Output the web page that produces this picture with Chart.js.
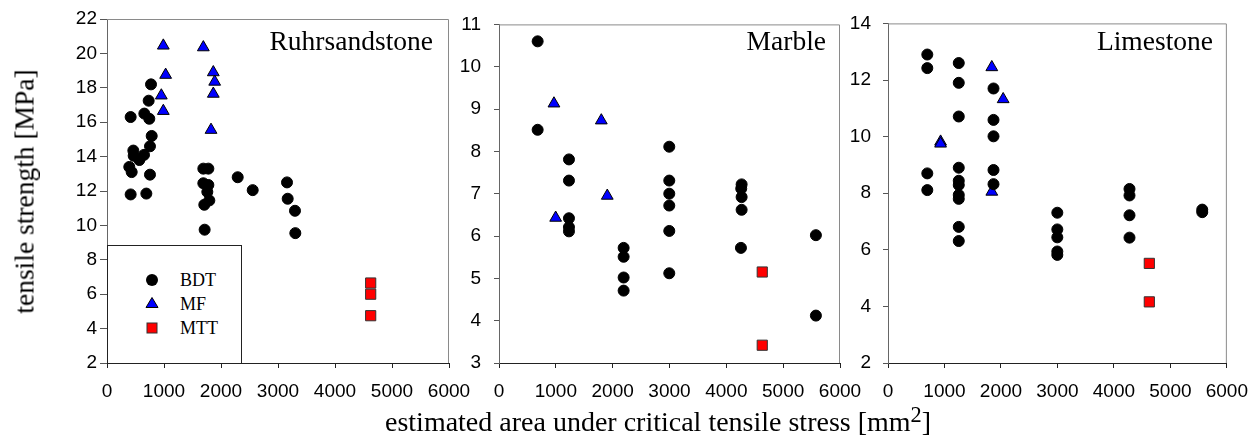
<!DOCTYPE html>
<html><head><meta charset="utf-8">
<script src="https://cdn.jsdelivr.net/npm/chart.js@4.4.1/dist/chart.umd.min.js"></script>
<style>
html,body{margin:0;padding:0;background:#fff;}
#wrap{position:relative;width:1260px;height:438px;overflow:hidden;font-family:"Liberation Serif","Times New Roman",serif;color:#000;}
canvas{position:absolute;left:0;top:0;}
.ptitle{position:absolute;font-size:27.5px;line-height:27px;white-space:nowrap;text-align:right;width:300px;}
#ytitle{position:absolute;left:-176px;top:178px;width:400px;height:27px;line-height:27px;font-size:27.5px;text-align:center;transform:rotate(-90deg);white-space:nowrap;}
#xtitle{position:absolute;left:385px;top:408px;font-size:28px;line-height:28px;white-space:nowrap;}
#xtitle sup{font-size:0.8em;line-height:0;vertical-align:0.42em;}
#legend{position:absolute;left:107px;top:245px;width:133px;height:117px;border:1px solid #222;background:#fff;}
#legend .it{position:absolute;left:0;width:133px;height:20px;}
#legend svg{position:absolute;left:34px;top:0;}
#legend span{position:absolute;left:72px;top:0;font-size:18px;line-height:20px;}
</style></head>
<body><div id="wrap">
<canvas id="c1" width="1260" height="438"></canvas>
<canvas id="c2" width="1260" height="438"></canvas>
<canvas id="c3" width="1260" height="438"></canvas>
<div class="ptitle" style="left:133px;top:27px;">Ruhrsandstone</div>
<div class="ptitle" style="left:526px;top:27px;">Marble</div>
<div class="ptitle" style="left:913px;top:27px;">Limestone</div>
<div id="ytitle">tensile strength [MPa]</div>
<div id="xtitle">estimated area under critical tensile stress [mm<sup>2</sup>]</div>
<div id="legend">
 <div class="it" style="top:24px;"><svg width="20" height="20"><circle cx="10" cy="10" r="6" fill="#000"/></svg><span>BDT</span></div>
 <div class="it" style="top:48px;"><svg width="20" height="20"><polygon points="10,3.5 16,13.5 4,13.5" fill="#0000ff" stroke="#000" stroke-width="1"/></svg><span>MF</span></div>
 <div class="it" style="top:72px;"><svg width="20" height="20"><rect x="5" y="5" width="10" height="10" fill="#ff0000" stroke="#333" stroke-width="1"/></svg><span>MTT</span></div>
</div>
</div>
<script>
// ---------------- data ----------------
const seriesNames = ['BDT', 'MF', 'MTT'];
const xTicks = [0, 1000, 2000, 3000, 4000, 5000, 6000];

// Ruhrsandstone
const ruhrBdtX = [772, 731, 415, 655, 742, 784, 754, 462, 468, 567, 649, 391, 433, 754, 415, 690, 1690, 1778, 1690, 1778, 1760, 1795, 1707, 1713, 2293, 2556, 3158, 3170, 3298, 3304];
const ruhrBdtY = [18.2, 17.25, 16.3, 16.5, 16.2, 15.2, 14.6, 14.35, 14.05, 13.8, 14.1, 13.4, 13.1, 12.95, 11.8, 11.85, 13.3, 13.3, 12.45, 12.35, 11.95, 11.45, 11.2, 9.75, 12.8, 12.05, 12.5, 11.55, 10.85, 9.55];
const ruhrMfX = [988, 1690, 1029, 1865, 1889, 953, 1865, 988, 1825];
const ruhrMfY = [20.45, 20.35, 18.75, 18.9, 18.35, 17.55, 17.65, 16.65, 15.55];
const ruhrMttX = [4626, 4626, 4626];
const ruhrMttY = [6.65, 6.0, 4.75];
const ruhrYTicks = [2, 4, 6, 8, 10, 12, 14, 16, 18, 20, 22];

// Marble
const marbleBdtX = [680, 680, 1231, 1231, 1231, 1231, 1231, 2996, 2996, 2996, 2996, 2996, 2996, 2193, 2193, 2193, 2193, 4269, 4262, 4269, 4269, 4257, 5576, 5576];
const marbleBdtY = [10.6, 8.51, 7.81, 7.31, 6.42, 6.21, 6.11, 8.11, 7.31, 7.0, 6.72, 6.12, 5.12, 5.72, 5.51, 5.02, 4.71, 7.22, 7.12, 6.92, 6.62, 5.72, 6.02, 4.12];
const marbleMfX = [967, 1800, 1905, 997];
const marbleMfY = [9.13, 8.73, 6.95, 6.43];
const marbleMttX = [4632, 4632];
const marbleMttY = [5.15, 3.42];
const marbleYTicks = [3, 4, 5, 6, 7, 8, 9, 10, 11];

// Limestone
const limeBdtX = [696, 696, 696, 696, 1253, 1253, 1253, 1253, 1253, 1253, 1253, 1253, 1253, 1253, 1868, 1868, 1868, 1868, 1868, 2998, 2998, 2998, 2998, 2998, 4276, 4276, 4276, 4276, 5564, 5564];
const limeBdtY = [12.9, 12.42, 8.7, 8.11, 12.6, 11.9, 10.71, 8.9, 8.44, 8.29, 7.94, 7.8, 6.81, 6.31, 11.7, 10.59, 10.01, 8.82, 8.32, 7.31, 6.72, 6.44, 5.94, 5.82, 8.15, 7.92, 7.22, 6.43, 7.42, 7.33];
const limeMfX = [931, 931, 1838, 2039, 1838];
const limeMfY = [9.82, 9.75, 12.45, 11.32, 8.05];
const limeMttX = [4627, 4627];
const limeMttY = [5.52, 4.16];
const limeYTicks = [2, 4, 6, 8, 10, 12, 14];

// ---------------- drawing ----------------
const pts = (xs, ys) => xs.map((x, i) => ({x: x, y: ys[i]}));

const framePlugin = {
  id: 'frame',
  afterDraw(chart) {
    const a = chart.chartArea, c = chart.ctx;
    c.save();
    c.strokeStyle = '#8a8a8a';
    c.lineWidth = 1;
    c.beginPath();
    c.moveTo(a.left, a.top + 0.5);
    c.lineTo(a.right - 0.5, a.top + 0.5);
    c.lineTo(a.right - 0.5, a.bottom);
    c.stroke();
    c.restore();
  }
};

function makeChart(id, left, right, yTicks, bdt, mf, mtt, yTickLen, yPad) {
  const yMin = yTicks[0], yMax = yTicks[yTicks.length - 1];
  return new Chart(document.getElementById(id), {
    type: 'scatter',
    data: {
      datasets: [
        {label: seriesNames[0], data: bdt, pointStyle: 'circle', pointRadius: 5.5, pointBackgroundColor: '#000', pointBorderColor: '#000', pointBorderWidth: 1, showLine: false},
        {label: seriesNames[1], data: mf, pointStyle: 'triangle', pointRadius: 6.8, pointBackgroundColor: '#0000ff', pointBorderColor: '#000', pointBorderWidth: 1, showLine: false},
        {label: seriesNames[2], data: mtt, pointStyle: 'rect', pointRadius: 7.2, pointBackgroundColor: '#ff0000', pointBorderColor: '#333', pointBorderWidth: 1, showLine: false}
      ]
    },
    options: {
      responsive: false,
      animation: false,
      events: [],
      layout: {padding: {left: 0, top: 19, right: 1260 - right, bottom: 0}},
      plugins: {legend: {display: false}, tooltip: {enabled: false}, title: {display: false}},
      scales: {
        x: {
          type: 'linear', min: xTicks[0], max: xTicks[xTicks.length - 1],
          afterBuildTicks: s => { s.ticks = xTicks.map(v => ({value: v})); },
          ticks: {color: '#000', font: {family: 'Liberation Sans', size: 19}, padding: 12, maxRotation: 0, autoSkip: false, callback: v => String(v)},
          grid: {display: true, drawOnChartArea: false, drawTicks: true, tickLength: 5, color: '#222', tickColor: '#222'},
          border: {display: true, color: '#222', width: 1},
          afterFit: s => { s.height = 75; }
        },
        y: {
          type: 'linear', min: yMin, max: yMax,
          afterBuildTicks: s => { s.ticks = yTicks.map(v => ({value: v})); },
          ticks: {color: '#000', font: {family: 'Liberation Sans', size: 19}, padding: yPad, autoSkip: false, callback: v => String(v)},
          grid: {display: true, drawOnChartArea: false, drawTicks: true, tickLength: yTickLen, color: '#555', tickColor: '#555'},
          border: {display: true, color: '#666', width: 1},
          afterFit: s => { s.width = left; }
        }
      }
    },
    plugins: [framePlugin]
  });
}

makeChart('c1', 107, 449, ruhrYTicks, pts(ruhrBdtX, ruhrBdtY), pts(ruhrMfX, ruhrMfY), pts(ruhrMttX, ruhrMttY), 7, 3);
makeChart('c2', 499, 840, marbleYTicks, pts(marbleBdtX, marbleBdtY), pts(marbleMfX, marbleMfY), pts(marbleMttX, marbleMttY), 5, 13);
makeChart('c3', 888, 1229, limeYTicks, pts(limeBdtX, limeBdtY), pts(limeMfX, limeMfY), pts(limeMttX, limeMttY), 5, 12);
</script>
</body></html>
